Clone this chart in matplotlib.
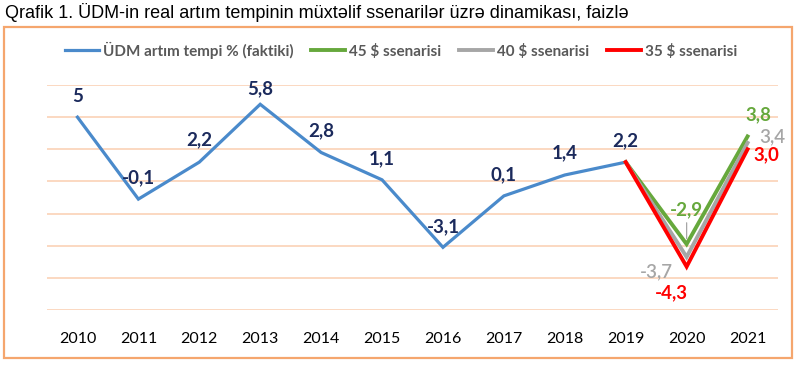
import matplotlib
matplotlib.use("Agg")
import matplotlib.pyplot as plt
from matplotlib.patches import Rectangle

# ---- data ----
years = ["2010", "2011", "2012", "2013", "2014", "2015", "2016", "2017", "2018", "2019", "2020", "2021"]
actual = [5.0, -0.1, 2.2, 5.8, 2.8, 1.1, -3.1, 0.1, 1.4, 2.2]
actual_labels = ["5", "-0,1", "2,2", "5,8", "2,8", "1,1", "-3,1", "0,1", "1,4", "2,2"]
scen_years = ["2019", "2020", "2021"]
scen45 = [2.2, -2.9, 3.8]
scen40 = [2.2, -3.7, 3.4]
scen35 = [2.2, -4.3, 3.0]
scen45_labels = [None, "-2,9", "3,8"]
scen40_labels = [None, "-3,7", "3,4"]
scen35_labels = [None, "-4,3", "3,0"]
series_names = ["ÜDM artım tempi % (faktiki)", "45 $ ssenarisi", "40 $ ssenarisi", "35 $ ssenarisi"]
title = "Qrafik 1. ÜDM-in real artım tempinin müxtəlif ssenarilər üzrə dinamikası, faizlə"

# ---- style ----
BLUE = "#4A8ACB"
GREEN = "#66A83C"
GRAY = "#A6A6A6"
RED = "#FF0000"
NAVY = "#1B2A5C"
GRID = "#FBD6BC"
FRAME = "#F5A66E"
FONT = ["Lato", "DejaVu Sans"]

W, H = 800, 379
fig = plt.figure(figsize=(W / 100, H / 100), dpi=100)
ax = fig.add_axes([47 / W, 1 - 310 / H, (778 - 47) / W, (310 - 85) / H])

xi = {y: i for i, y in enumerate(years)}
xa = [xi[y] for y in years[:len(actual)]]
xs = [xi[y] for y in scen_years]

ax.plot(xa, actual, color=BLUE, lw=2.3, solid_joinstyle="miter", zorder=3, label=series_names[0])
ax.plot(xs, scen45, color=GREEN, lw=2.8, solid_joinstyle="miter", zorder=4, label=series_names[1])
ax.plot(xs, scen40, color=GRAY, lw=2.8, solid_joinstyle="miter", zorder=4, label=series_names[2])
ax.plot(xs, scen35, color=RED, lw=2.8, solid_joinstyle="miter", zorder=5, label=series_names[3])

ax.set_xlim(-0.5, len(years) - 0.5)
ax.set_ylim(-7, 7)
ax.set_yticks(range(-7, 8, 2))
ax.yaxis.grid(True, color=GRID, lw=1.3)
ax.set_axisbelow(True)
ax.tick_params(axis="y", left=False, labelleft=False)
ax.set_xticks(range(len(years)))
ax.set_xticklabels(years, fontfamily=FONT, fontsize=11.5, color="#000000")
ax.tick_params(axis="x", length=0, pad=16)
for s in ax.spines.values():
    s.set_visible(False)

# data labels for actual series (offsets in pixels)
act_offsets = [(0, 21), (0, 21), (0, 22), (0, 16), (0, 22), (0, 21), (0, 21), (0, 21), (0, 22), (0, 21)]
for x, v, t, off in zip(xa, actual, actual_labels, act_offsets):
    ax.annotate(t, (x, v), xytext=off, textcoords="offset pixels", ha="center", va="center",
                fontfamily=FONT, fontsize=13.5, fontweight="bold", color=NAVY, zorder=6)

def lab(x, v, t, off, color, weight, leader=False):
    kw = {}
    if leader:
        kw["arrowprops"] = dict(arrowstyle="-", color="#A6A6A6", lw=0.9, shrinkA=1, shrinkB=4)
    ax.annotate(t, (x, v), xytext=off, textcoords="offset pixels", ha="center", va="center",
                fontfamily=FONT, fontsize=13.5, fontweight=weight, color=color, zorder=6, **kw)

lab(xs[1], scen45[1], scen45_labels[1], (0, 34), GREEN, "bold", leader=True)
lab(xs[2], scen45[2], scen45_labels[2], (11, 22), GREEN, "bold")
lab(xs[1], scen40[1], scen40_labels[1], (-30, -15), GRAY, "semibold")
lab(xs[2], scen40[2], scen40_labels[2], (25, 6), GRAY, "semibold")
lab(xs[1], scen35[1], scen35_labels[1], (-15, -26), RED, "bold")
lab(xs[2], scen35[2], scen35_labels[2], (19, -5), RED, "bold")

leg = fig.legend(loc="center", bbox_to_anchor=(401 / W, 1 - 50 / H), ncol=4, frameon=False,
                 handlelength=2.2, handletextpad=0.25, columnspacing=1.2,
                 prop=dict(family=FONT, size=11, weight="bold"))
for t in leg.get_texts():
    t.set_color("#595959")

fig.text(5 / W, 1 - 12 / H, title, ha="left", va="center", fontsize=13,
         fontfamily=["Liberation Sans", "DejaVu Sans"], color="#000000")

fig.patches.append(Rectangle((4 / W, 1 - 358 / H), (792 - 4) / W, (358 - 26.7) / H,
                             transform=fig.transFigure, fill=False, ec=FRAME, lw=1.6))

fig.savefig("out.png", dpi=100)
